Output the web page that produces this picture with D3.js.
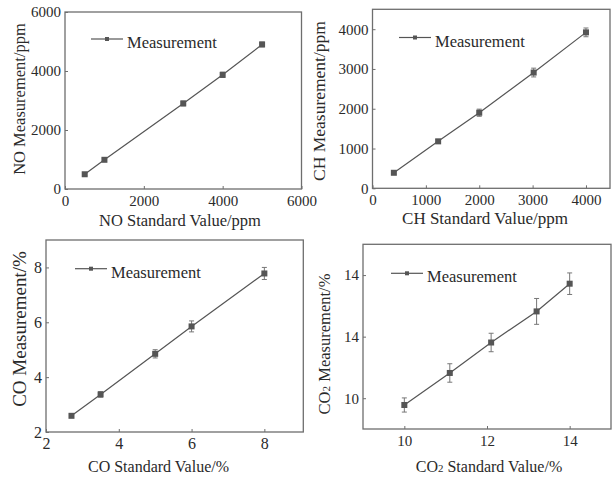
<!DOCTYPE html>
<html>
<head>
<meta charset="utf-8">
<script src="https://cdn.jsdelivr.net/npm/d3@7"></script>
<style>
  body { margin: 0; background: #fff; }
  svg, svg text { font-family: "Liberation Serif", "Times New Roman", serif; }
</style>
</head>
<body>
<script>
var w = 616;
var h = 479;

// NO panel
var noStandard = [500, 1000, 3000, 4000, 5000];
var noMeasured = [500, 990, 2900, 3870, 4900];
var noError = [40, 40, 80, 90, 80];
var noTicks = [0, 2000, 4000, 6000];

// CH panel
var chStandard = [400, 1230, 2000, 3020, 4000];
var chMeasured = [390, 1180, 1900, 2910, 3920];
var chError = [30, 50, 90, 110, 110];
var chTicks = [0, 1000, 2000, 3000, 4000];

// CO panel
var coStandard = [2.7, 3.5, 5, 6, 8];
var coMeasured = [2.59, 3.37, 4.85, 5.85, 7.78];
var coError = [0.05, 0.1, 0.15, 0.2, 0.22];
var coTicks = [2, 4, 6, 8];

// CO2 panel
var co2Standard = [10, 11.1, 12.1, 13.2, 14];
var co2Measured = [9.78, 10.82, 11.81, 12.82, 13.72];
var co2Error = [0.23, 0.3, 0.3, 0.42, 0.35];
var co2Ticks = [10, 12, 14];
var co2YTickLabels = ['10', '14', '14'];

var legendLabel = 'Measurement';
var serif = '"Liberation Serif", "Times New Roman", serif';

var panels = [
  { std: noStandard, meas: noMeasured, err: noError,
    xDomain: [0, 6000], yDomain: [0, 6000], xTicks: noTicks, yTicks: noTicks, yLabels: null,
    box: [65, 12, 301.5, 189], tickSize: 15,
    xTitle: [['NO Standard Value/ppm', 0]], xTitlePos: [180, 226], xTitleSize: 16.5,
    yTitle: [['NO Measurement/ppm', 0]], yTitlePos: [25, 99], yTitleSize: 16.5,
    legend: [91, 39] },
  { std: chStandard, meas: chMeasured, err: chError,
    xDomain: [0, 4450], yDomain: [0, 4500], xTicks: chTicks, yTicks: chTicks, yLabels: null,
    box: [372.5, 9.3, 610, 188.3], tickSize: 15,
    xTitle: [['CH Standard Value/ppm', 0]], xTitlePos: [485, 224], xTitleSize: 17,
    yTitle: [['CH Measurement/ppm', 0]], yTitlePos: [325, 101], yTitleSize: 17.5,
    legend: [399, 37.5] },
  { std: coStandard, meas: coMeasured, err: coError,
    xDomain: [2, 9.07], yDomain: [2, 9], xTicks: coTicks, yTicks: coTicks, yLabels: null,
    box: [46, 240, 303.3, 432], tickSize: 16,
    xTitle: [['CO Standard Value/%', 0]], xTitlePos: [158.5, 472], xTitleSize: 16,
    yTitle: [['CO Measurement/%', 0]], yTitlePos: [26, 329], yTitleSize: 19,
    legend: [75, 268.7] },
  { std: co2Standard, meas: co2Measured, err: co2Error,
    xDomain: [9, 15], yDomain: [9, 15], xTicks: co2Ticks, yTicks: co2Ticks, yLabels: co2YTickLabels,
    box: [363, 244.3, 611, 429], tickSize: 15,
    xTitle: [['CO', 0], ['2', 1], [' Standard Value/%', 0]], xTitlePos: [489, 472], xTitleSize: 16,
    yTitle: [['CO', 0], ['2', 1], [' Measurement/%', 0]], yTitlePos: [330, 344], yTitleSize: 16.5,
    legend: [391, 273.3] }
];

var svg = d3.select('body')
  .append('svg')
  .attr('width', w)
  .attr('height', h);

function addTitle(sel, parts, size) {
  parts.forEach(function(p) {
    var t = sel.append('tspan').text(p[0]);
    if (p[1]) t.attr('font-size', size * 0.68);
  });
}

panels.forEach(function(p) {
  var x0 = p.box[0], y0 = p.box[1], x1 = p.box[2], y1 = p.box[3];
  var x = d3.scaleLinear().domain(p.xDomain).range([x0, x1]);
  var y = d3.scaleLinear().domain(p.yDomain).range([y1, y0]);
  var g = svg.append('g');

  // frame
  g.append('rect')
    .attr('x', x0).attr('y', y0)
    .attr('width', x1 - x0).attr('height', y1 - y0)
    .attr('fill', 'none').attr('stroke', '#6e6e6e').attr('stroke-width', 1.3);

  var xAxis = d3.axisBottom(x).tickValues(p.xTicks).tickSizeInner(-3).tickSizeOuter(0)
    .tickPadding(6).tickFormat(d3.format('d'));
  var yAxis = d3.axisLeft(y).tickValues(p.yTicks).tickSizeInner(-3).tickSizeOuter(0)
    .tickPadding(4)
    .tickFormat(function(d, i) { return p.yLabels ? p.yLabels[i] : d3.format('d')(d); });

  var gx = g.append('g').attr('transform', 'translate(0,' + y1 + ')').call(xAxis);
  var gy = g.append('g').attr('transform', 'translate(' + x0 + ',0)').call(yAxis);
  [gx, gy].forEach(function(a) {
    a.attr('font-family', null).attr('font-size', null);
    a.select('.domain').remove();
    a.selectAll('.tick line').attr('stroke', '#6e6e6e').attr('stroke-width', 1);
    a.selectAll('.tick text').attr('fill', '#2a2a2a')
      .style('font-size', p.tickSize + 'px').style('font-family', serif);
  });

  // line
  var line = d3.line()
    .x(function(d, i) { return x(p.std[i]); })
    .y(function(d) { return y(d); });
  g.append('path').datum(p.meas)
    .attr('d', line)
    .attr('fill', 'none').attr('stroke', '#555').attr('stroke-width', 1.2);

  // error bars
  var eb = g.selectAll('.err').data(p.meas).enter().append('g').attr('class', 'err');
  eb.append('line')
    .attr('x1', function(d, i) { return x(p.std[i]); })
    .attr('x2', function(d, i) { return x(p.std[i]); })
    .attr('y1', function(d, i) { return y(d - p.err[i]); })
    .attr('y2', function(d, i) { return y(d + p.err[i]); })
    .attr('stroke', '#777').attr('stroke-width', 1);
  [-1, 1].forEach(function(s) {
    eb.append('line')
      .attr('x1', function(d, i) { return x(p.std[i]) - 2.5; })
      .attr('x2', function(d, i) { return x(p.std[i]) + 2.5; })
      .attr('y1', function(d, i) { return y(d + s * p.err[i]); })
      .attr('y2', function(d, i) { return y(d + s * p.err[i]); })
      .attr('stroke', '#777').attr('stroke-width', 1);
  });

  // markers
  g.selectAll('.mk').data(p.meas).enter().append('rect')
    .attr('x', function(d, i) { return x(p.std[i]) - 3; })
    .attr('y', function(d) { return y(d) - 3; })
    .attr('width', 6).attr('height', 6)
    .attr('fill', '#555');

  // legend
  var lx = p.legend[0], ly = p.legend[1];
  g.append('line').attr('x1', lx).attr('x2', lx + 32).attr('y1', ly).attr('y2', ly)
    .attr('stroke', '#555').attr('stroke-width', 1.2);
  g.append('rect').attr('x', lx + 14).attr('y', ly - 2).attr('width', 4).attr('height', 4)
    .attr('fill', '#555');
  g.append('text').attr('x', lx + 36).attr('y', ly + 9)
    .attr('font-size', 16.5).attr('fill', '#2a2a2a').text(legendLabel);

  // axis titles
  var xt = g.append('text')
    .attr('x', p.xTitlePos[0]).attr('y', p.xTitlePos[1])
    .attr('text-anchor', 'middle').attr('font-size', p.xTitleSize).attr('fill', '#2a2a2a');
  addTitle(xt, p.xTitle, p.xTitleSize);

  var yt = g.append('text')
    .attr('transform', 'translate(' + p.yTitlePos[0] + ',' + p.yTitlePos[1] + ') rotate(-90)')
    .attr('text-anchor', 'middle').attr('font-size', p.yTitleSize).attr('fill', '#2a2a2a');
  addTitle(yt, p.yTitle, p.yTitleSize);
});
</script>
</body>
</html>
